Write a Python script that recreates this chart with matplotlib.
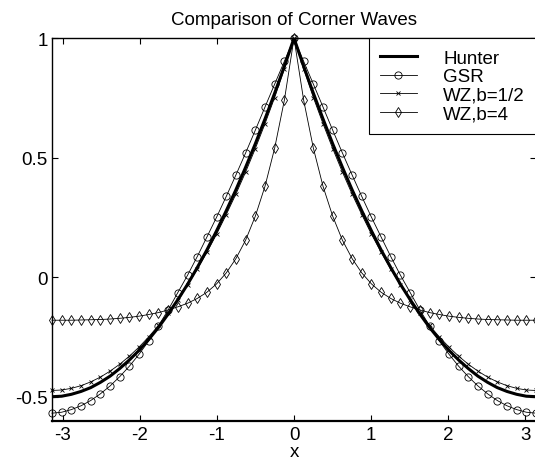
import numpy as np
import matplotlib
matplotlib.use("Agg")
import matplotlib.pyplot as plt

plt.rcParams['font.family'] = ['Liberation Sans', 'DejaVu Sans']
plt.rcParams['axes.unicode_minus'] = False

# sample positions: 51 points from -pi to pi
x = np.linspace(-np.pi, np.pi, 51)

hunter = [-0.500, -0.498, -0.490, -0.478, -0.462, -0.440, -0.414, -0.382, -0.346, -0.306,
          -0.260, -0.210, -0.154, -0.094, -0.030, 0.040, 0.114, 0.194, 0.278, 0.366,
          0.460, 0.558, 0.662, 0.770, 0.882, 1.000, 0.882, 0.770, 0.662, 0.558,
          0.460, 0.366, 0.278, 0.194, 0.114, 0.040, -0.030, -0.094, -0.154, -0.210,
          -0.260, -0.306, -0.346, -0.382, -0.414, -0.440, -0.462, -0.478, -0.490, -0.498,
          -0.500]

gsr = [-0.569, -0.565, -0.554, -0.538, -0.516, -0.488, -0.455, -0.416, -0.372, -0.322,
       -0.266, -0.203, -0.137, -0.064, 0.008, 0.086, 0.168, 0.251, 0.338, 0.428,
       0.520, 0.615, 0.712, 0.808, 0.903, 1.000, 0.903, 0.808, 0.712, 0.615,
       0.520, 0.428, 0.338, 0.251, 0.168, 0.086, 0.008, -0.064, -0.137, -0.203,
       -0.266, -0.322, -0.372, -0.416, -0.455, -0.488, -0.516, -0.538, -0.554, -0.565,
       -0.569]

wz_half = [-0.474, -0.472, -0.465, -0.454, -0.438, -0.418, -0.393, -0.364, -0.330, -0.292,
           -0.249, -0.202, -0.150, -0.094, -0.033, 0.033, 0.104, 0.180, 0.262, 0.348,
           0.440, 0.538, 0.642, 0.752, 0.872, 1.000, 0.872, 0.752, 0.642, 0.538,
           0.440, 0.348, 0.262, 0.180, 0.104, 0.033, -0.033, -0.094, -0.150, -0.202,
           -0.249, -0.292, -0.330, -0.364, -0.393, -0.418, -0.438, -0.454, -0.465, -0.472,
           -0.474]

wz_four = [-0.180, -0.180, -0.180, -0.179, -0.178, -0.177, -0.175, -0.172, -0.168, -0.163,
           -0.156, -0.148, -0.137, -0.124, -0.109, -0.089, -0.063, -0.028, 0.018, 0.078,
           0.155, 0.255, 0.380, 0.540, 0.740, 1.000, 0.740, 0.540, 0.380, 0.255,
           0.155, 0.078, 0.018, -0.028, -0.063, -0.089, -0.109, -0.124, -0.137, -0.148,
           -0.156, -0.163, -0.168, -0.172, -0.175, -0.177, -0.178, -0.179, -0.180, -0.180,
           -0.180]

labels = ['Hunter', 'GSR', 'WZ,b=1/2', 'WZ,b=4']
xticks = [-3, -2, -1, 0, 1, 2, 3]
xticklabels = ['-3', '-2', '-1', '0', '1', '2', '3']
yticks = [-0.5, 0, 0.5, 1]
yticklabels = ['-0.5', '0', '0.5', '1']

FS = 13.5

fig = plt.figure(figsize=(5.35, 4.64), dpi=100)
ax = fig.add_axes([0.0972, 0.0914, 0.9047, 0.824])

ax.plot(x, hunter, color='black', lw=2.2, label=labels[0], zorder=5)
ax.plot(x, gsr, color='black', lw=0.6, marker='o', ms=5.2, mfc='none', mew=0.6,
        label=labels[1], clip_on=False)
ax.plot(x, wz_half, color='black', lw=0.6, marker='x', ms=3.0, mew=0.6,
        label=labels[2], clip_on=False)
ax.plot(x, wz_four, color='black', lw=0.6, marker='d', ms=5.2, mfc='none', mew=0.6,
        label=labels[3], clip_on=False)

ax.set_xlim(-np.pi, np.pi)
ax.set_ylim(-0.6, 1.0)
ax.set_xticks(xticks)
ax.set_xticklabels(xticklabels)
ax.set_yticks(yticks)
ax.set_yticklabels(yticklabels)
ax.tick_params(direction='in', top=True, right=True, length=4, width=0.8,
               labelsize=FS)
ax.tick_params(axis='y', pad=3)
ax.tick_params(axis='x', pad=4)
for s in ax.spines.values():
    s.set_linewidth(1.0)
ax.spines['bottom'].set_linewidth(1.6)

ax.set_title('Comparison of Corner Waves', fontsize=FS, pad=10)
ax.set_xlabel('x', fontsize=FS, labelpad=0)

leg = ax.legend(loc='upper right', bbox_to_anchor=(1.0, 1.0), borderaxespad=0,
                fancybox=False, frameon=True, edgecolor='black', framealpha=1,
                fontsize=FS, handlelength=1.95, handletextpad=1.4,
                labelspacing=0.08, borderpad=0.6, numpoints=1)
leg.get_frame().set_linewidth(0.8)

fig.savefig('out.png', dpi=100)
